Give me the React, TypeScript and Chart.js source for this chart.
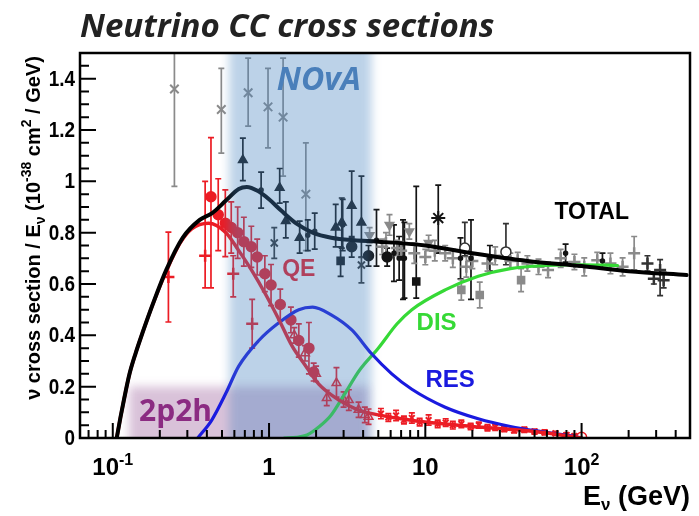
import React, { useEffect, useRef } from "react";
import { Chart, registerables } from "chart.js";
Chart.register(...registerables);

// ---------- theory curves ----------
const totalE = [0.106, 0.112, 0.118, 0.128, 0.14, 0.155, 0.18, 0.22, 0.28, 0.36, 0.43, 0.53, 0.64, 0.72, 0.85, 1.0, 1.2, 1.5, 1.9, 2.5, 3.5, 5, 10, 20, 45, 100, 200, 470];
const totalV = [0, 0.08, 0.15, 0.25, 0.33, 0.41, 0.52, 0.655, 0.78, 0.85, 0.875, 0.925, 0.97, 0.978, 0.962, 0.93, 0.885, 0.835, 0.8, 0.78, 0.77, 0.765, 0.75, 0.72, 0.69, 0.67, 0.65, 0.635];
const qeE = [0.106, 0.112, 0.118, 0.128, 0.14, 0.155, 0.18, 0.22, 0.27, 0.32, 0.41, 0.53, 0.64, 0.78, 0.95, 1.16, 1.4, 1.72, 2.08, 2.8, 3.7, 5, 7, 10, 20, 50, 100];
const qeV = [0, 0.08, 0.15, 0.25, 0.33, 0.41, 0.52, 0.65, 0.76, 0.815, 0.837, 0.8, 0.73, 0.65, 0.56, 0.46, 0.36, 0.28, 0.21, 0.148, 0.11, 0.09, 0.075, 0.062, 0.045, 0.025, 0];
const resE = [0.35, 0.43, 0.53, 0.64, 0.86, 1.16, 1.55, 1.9, 2.5, 3.4, 4.5, 6.1, 8.2, 13.4, 21.8, 35, 58, 90, 100];
const resV = [0, 0.07, 0.175, 0.28, 0.38, 0.45, 0.5, 0.51, 0.48, 0.42, 0.33, 0.25, 0.19, 0.12, 0.075, 0.045, 0.023, 0.006, 0];
const disE = [1.25, 1.5, 1.75, 2.1, 2.5, 3.0, 3.8, 5.0, 6.6, 8.2, 13.4, 21.8, 35, 60, 100, 170];
const disV = [0, 0.003, 0.012, 0.045, 0.09, 0.165, 0.265, 0.35, 0.445, 0.5, 0.577, 0.63, 0.66, 0.672, 0.675, 0.672];

// ---------- measurements (value, error: number or [down, up]) ----------
const grayXE = [0.248, 0.495, 0.735, 0.985, 1.23, 1.72];
const grayXV = [1.36, 1.28, 1.345, 1.29, 1.25, 0.95];
const grayXErr: any[] = [[0.38, 0.14], [0.17, 0.16], [0.13, 0.135], [0.16, 0.15], 0.23, [0.22, 0.2]];

const darkTriE = [0.68, 1.17, 1.28, 1.57, 2.67, 2.92, 3.38, 3.9];
const darkTriV = [1.083, 0.975, 0.845, 0.78, 0.82, 0.84, 0.905, 0.84];
const darkTriErr: any[] = [[0.08, 0.085], [0.06, 0.075], [0.065, 0.075], [0.06, 0.065], [0.075, 0.09], [0.1, 0.095], [0.125, 0.135], [0.135, 0.18]];

const darkBarE = [0.89, 1.77, 1.96, 2.96, 4.87, 6.3, 6.8, 7.2, 7.35, 16.8, 19.6, 25.9, 79, 136];
const darkBarV = [0.966, 0.79, 0.806, 0.83, 0.77, 0.72, 0.7, 0.7, 0.7, 0.7, 0.7, 0.7, 0.72, 0.69];
const darkBarErr: any[] = [0.07, 0.06, 0.07, 0.1, [0.1, 0.12], 0.11, 0.085, [0.16, 0.15], [0.155, 0.14], 0.08, [0.16, 0.15], 0.05, 0.035, 0.03];

const blackCircE = [3.38, 4.33, 5.7];
const blackCircV = [0.745, 0.71, 0.705];
const blackCircErr: any[] = [0.04, 0.04, 0.035];

const blackSqE = [2.87, 8.75];
const blackSqV = [0.69, 0.61];
const blackSqErr: any[] = [[0.06, 0.055], [0.065, 0.37]];

const darkXE = [1.08, 3.9];
const darkXV = [0.76, 0.674];
const darkXErr: any[] = [0.06, [0.07, 0.03]];

const starE = [12.1];
const starV = [0.857];
const starErr: any[] = [[0.137, 0.128]];

const grayDownE = [4.4, 5.9, 7.9, 10.5];
const grayDownV = [0.79, 0.83, 0.805, 0.76];
const grayDownErr: any[] = [0.03, 0.04, 0.03, 0.03];

const grayCrossE = [5.3, 5.6, 6.6, 7.0, 8.5, 10, 11.5, 13.4, 15, 18.3, 20, 25, 28, 35, 39, 45, 53, 61, 73.5, 90, 104, 126, 153, 183, 217];
const grayCrossV = [0.745, 0.76, 0.74, 0.73, 0.72, 0.705, 0.73, 0.72, 0.7, 0.667, 0.69, 0.68, 0.71, 0.69, 0.693, 0.68, 0.667, 0.655, 0.7, 0.686, 0.667, 0.693, 0.68, 0.667, 0.72];
const grayCrossErr: any[] = [0.03, 0.04, 0.03, 0.035, 0.04, 0.03, 0.04, 0.03, 0.035, 0.04, 0.03, 0.03, 0.035, 0.03, 0.03, 0.03, 0.03, 0.03, 0.035, 0.03, 0.035, 0.03, 0.04, 0.035, 0.065];

const openCrossE = [264, 290, 318, 335];
const openCrossV = [0.68, 0.62, 0.655, 0.615];
const openCrossErr: any[] = [0.03, 0.02, [0.1, 0.04], 0.03];

const graySqE = [17, 22.3, 41];
const graySqV = [0.577, 0.557, 0.615];
const graySqErr: any[] = [0.04, 0.05, 0.045];

const openCircE = [17.9, 32.8];
const openCircV = [0.74, 0.725];
const openCircErr: any[] = [[0.03, 0.1], [0.05, 0.11]];

const redCircE = [0.425, 0.473, 0.525, 0.573, 0.63, 0.69, 0.77, 0.84, 0.94, 1.03, 1.18, 1.38, 1.55, 1.8, 1.93];
const redCircV = [0.94, 0.87, 0.837, 0.82, 0.8, 0.765, 0.745, 0.705, 0.64, 0.596, 0.52, 0.46, 0.38, 0.35, 0.257];
const redCircErr: any[] = [[0.355, 0.23], 0.14, 0.13, 0.1, 0.1, 0.095, 0.08, 0.07, 0.07, 0.08, 0.06, 0.05, 0.065, 0.1, 0.035];

const redCrossE = [0.227, 0.39, 0.59, 0.78];
const redCrossV = [0.627, 0.71, 0.64, 0.445];
const redCrossErr: any[] = [0.175, [0.125, 0.29], [0.09, 0.07], 0.095];

const redTriE = [1.45, 1.7, 2.0, 2.34, 2.7, 3.0, 3.24, 3.74, 4.1, 4.33];
const redTriV = [0.4, 0.33, 0.25, 0.156, 0.214, 0.15, 0.148, 0.11, 0.09, 0.083];
const redTriErr: any[] = [0.03, 0.03, 0.03, 0.03, [0.055, 0.06], 0.03, 0.04, 0.03, 0.03, 0.03];

const redSmallE = [5.2, 5.8, 6.5, 7.3, 8.2, 9.2, 10.5, 12, 13.5, 15, 17, 19.5, 22, 25, 28, 32, 37, 43, 50, 58, 68, 80, 90];
const redSmallV = [0.095, 0.08, 0.088, 0.07, 0.078, 0.062, 0.07, 0.055, 0.06, 0.05, 0.055, 0.045, 0.05, 0.04, 0.042, 0.035, 0.03, 0.032, 0.025, 0.022, 0.018, 0.012, 0.008];
const redSmallErr: any[] = [0.02, 0.015, 0.02, 0.015, 0.02, 0.015, 0.02, 0.015, 0.015, 0.015, 0.015, 0.012, 0.012, 0.012, 0.012, 0.01, 0.01, 0.01, 0.01, 0.01, 0.008, 0.008, 0.006];

const redEndE = [100];
const redEndV = [0.003];

// ---------- axes ----------
const xMin = 0.0617;
const xMax = 494;
const yMin = 0;
const yMax = 1.5;
const xTickValues = [0.1, 1, 10, 100];
const xTickBase = ["10", "1", "10", "10"];
const xTickSup = ["-1", "", "", "2"];
const yTickValues = [0, 0.2, 0.4, 0.6, 0.8, 1, 1.2, 1.4];
const yTickLabels = ["0", "0.2", "0.4", "0.6", "0.8", "1", "1.2", "1.4"];

// ---------- shaded regions (data coordinates) ----------
const novaRangeE = [0.556, 4.53];
const box2p2hE = [0.127, 4.3];
const box2p2hV = [-0.1, 0.2];

const GRAY = "#8a8a8a";
const DARK = "#141414";
const RED = "#ec1c24";
const BLUE = "#1a1adf";
const GREEN = "#36d936";
const SANS = "'Liberation Sans', Arial, sans-serif";
const OPEN = "'Open Sans', sans-serif";

function curve(E: number[], V: number[], color: string, width: number, order: number) {
  return {
    type: "line",
    data: E.map((e, i) => ({ x: e, y: V[i] })),
    borderColor: color,
    borderWidth: width,
    pointRadius: 0,
    fill: false,
    cubicInterpolationMode: "monotone",
    borderCapStyle: "round",
    borderJoinStyle: "round",
    order,
  };
}

function points(E: number[], V: number[], err: any[] | null, o: any) {
  return {
    type: "line",
    data: E.map((e, i) => ({ x: e, y: V[i] })),
    showLine: false,
    pointStyle: o.style,
    pointRadius: o.r,
    pointBorderColor: o.border,
    pointBackgroundColor: o.fill,
    pointBorderWidth: o.bw ?? 1.5,
    pointRotation: o.rot ?? 0,
    errs: err,
    errColor: o.border,
    order: 5,
  };
}

function segs(ctx: CanvasRenderingContext2D, list: any[], x: number, y: number, align: string, font: (s: number) => string) {
  let total = 0;
  const ws = list.map((s) => {
    ctx.font = font(s.size);
    const w = ctx.measureText(s.t).width;
    total += w;
    return w;
  });
  let cx = align === "left" ? x : align === "center" ? x - total / 2 : x - total;
  ctx.textAlign = "left";
  ctx.textBaseline = "alphabetic";
  list.forEach((s, i) => {
    ctx.font = font(s.size);
    ctx.fillText(s.t, cx, y + (s.dy || 0));
    cx += ws[i];
  });
}

const annot = {
  id: "annot",
  beforeDatasetsDraw(chart: any) {
    const { ctx, chartArea: a, scales } = chart;
    const xs = scales.x, ys = scales.y;
    ctx.save();
    ctx.beginPath();
    ctx.rect(a.left, a.top, a.right - a.left, a.bottom - a.top);
    ctx.clip();
    // 2p2h region
    ctx.filter = "blur(5px)";
    ctx.fillStyle = "rgba(140,70,140,0.33)";
    const bx0 = xs.getPixelForValue(box2p2hE[0]);
    const bx1 = xs.getPixelForValue(box2p2hE[1]);
    const by0 = ys.getPixelForValue(box2p2hV[1]);
    const by1 = ys.getPixelForValue(box2p2hV[0]);
    ctx.fillRect(bx0, by0, bx1 - bx0, by1 - by0);
    ctx.filter = "none";
    // error bars
    chart.data.datasets.forEach((ds: any) => {
      const err = ds.errs;
      if (!err) return;
      ctx.strokeStyle = ds.errColor;
      ctx.lineWidth = 1.7;
      ds.data.forEach((p: any, j: number) => {
        const e = err[j];
        const dn = Array.isArray(e) ? e[0] : e;
        const up = Array.isArray(e) ? e[1] : e;
        const X = xs.getPixelForValue(p.x);
        const y0 = ys.getPixelForValue(p.y - dn);
        const y1 = ys.getPixelForValue(p.y + up);
        ctx.beginPath();
        ctx.moveTo(X, y0);
        ctx.lineTo(X, y1);
        ctx.moveTo(X - 3, y0);
        ctx.lineTo(X + 3, y0);
        ctx.moveTo(X - 3, y1);
        ctx.lineTo(X + 3, y1);
        ctx.stroke();
      });
    });
    ctx.restore();
  },
  afterDatasetsDraw(chart: any) {
    const { ctx, chartArea: a, scales } = chart;
    const xs = scales.x, ys = scales.y;
    const P = (e: number, v: number) => [xs.getPixelForValue(e), ys.getPixelForValue(v)];
    ctx.save();
    ctx.beginPath();
    ctx.rect(a.left, a.top, a.right - a.left, a.bottom - a.top);
    ctx.clip();
    ctx.textAlign = "center";
    ctx.textBaseline = "middle";
    const labels = [
      { t: "TOTAL", e: 116, v: 0.877, c: "#000", s: 23 },
      { t: "QE", e: 1.55, v: 0.655, c: RED, s: 23 },
      { t: "DIS", e: 11.8, v: 0.448, c: GREEN, s: 24 },
      { t: "RES", e: 14.4, v: 0.226, c: BLUE, s: 24 },
    ];
    labels.forEach((l) => {
      const [lx, ly] = P(l.e, l.v);
      ctx.font = `bold ${l.s}px ${SANS}`;
      ctx.fillStyle = l.c;
      ctx.fillText(l.t, lx, ly);
    });
    // NOvA band
    const nx0 = xs.getPixelForValue(novaRangeE[0]);
    const nx1 = xs.getPixelForValue(novaRangeE[1]);
    ctx.filter = "blur(5px)";
    ctx.fillStyle = "rgba(70,130,190,0.36)";
    ctx.fillRect(nx0, a.top - 40, nx1 - nx0, a.bottom - a.top + 80);
    ctx.filter = "none";
    const [tx, ty] = P(2.08, 1.39);
    ctx.font = `italic bold 32px ${OPEN}`;
    ctx.fillStyle = "#4a7fba";
    ctx.fillText("NOvA", tx, ty);
    const [hx, hy] = P(0.252, 0.1);
    ctx.font = `bold 30px ${OPEN}`;
    ctx.fillStyle = "#8b2b82";
    ctx.fillText("2p2h", hx, hy);
    ctx.restore();
  },
  afterDraw(chart: any) {
    const { ctx, chartArea: a, scales } = chart;
    const xs = scales.x, ys = scales.y;
    ctx.save();
    ctx.strokeStyle = "#000";
    // ticks
    ctx.lineWidth = 2;
    ctx.beginPath();
    for (let k = 0; k <= 30; k++) {
      const v = k * 0.05;
      if (v > yMax) break;
      const py = ys.getPixelForValue(v);
      const major = k % 4 === 0;
      ctx.moveTo(a.left, py);
      ctx.lineTo(a.left + (major ? 16 : 9), py);
    }
    for (let d = -2; d <= 3; d++) {
      for (let m = 1; m <= 9; m++) {
        const v = m * Math.pow(10, d);
        if (v < xMin || v > xMax) continue;
        const pxv = xs.getPixelForValue(v);
        ctx.moveTo(pxv, a.bottom);
        ctx.lineTo(pxv, a.bottom - (m === 1 ? 15 : 8));
      }
    }
    ctx.stroke();
    // frame
    ctx.lineWidth = 2.5;
    ctx.strokeRect(a.left, a.top, a.right - a.left, a.bottom - a.top);

    ctx.fillStyle = "#000";
    // y tick labels
    ctx.textAlign = "right";
    ctx.textBaseline = "middle";
    ctx.font = `bold 22px ${SANS}`;
    yTickValues.forEach((v, i) => {
      const py = ys.getPixelForValue(v);
      ctx.save();
      ctx.translate(a.left - 5, py + 1);
      ctx.scale(0.86, 1);
      ctx.fillText(yTickLabels[i], 0, 0);
      ctx.restore();
    });
    // x tick labels
    xTickValues.forEach((v, i) => {
      const pxv = xs.getPixelForValue(v);
      const list: any[] = [{ t: xTickBase[i], size: 24 }];
      if (xTickSup[i]) list.push({ t: xTickSup[i], size: 16, dy: -10 });
      segs(ctx, list, pxv, 475, "center", (s) => `bold ${s}px ${SANS}`);
    });
    // x axis title
    segs(
      ctx,
      [
        { t: "E", size: 27 },
        { t: "ν", size: 17, dy: 5 },
        { t: " (GeV)", size: 27 },
      ],
      690,
      505,
      "right",
      (s) => `bold ${s}px ${SANS}`
    );
    // y axis title
    ctx.save();
    ctx.translate(40, 228);
    ctx.rotate(-Math.PI / 2);
    segs(
      ctx,
      [
        { t: "ν cross section / E", size: 20 },
        { t: "ν", size: 14, dy: 5 },
        { t: " (10", size: 20 },
        { t: "-38", size: 14, dy: -9 },
        { t: " cm", size: 20 },
        { t: "2", size: 14, dy: -9 },
        { t: " / GeV)", size: 20 },
      ],
      0,
      0,
      "center",
      (s) => `bold ${s}px ${SANS}`
    );
    ctx.restore();
    // title
    ctx.fillStyle = "#222";
    ctx.textAlign = "left";
    ctx.textBaseline = "alphabetic";
    ctx.font = `italic bold 33px ${OPEN}`;
    ctx.fillText("Neutrino CC cross sections", 80, 37);
    ctx.restore();
  },
};

export default function App() {
  const ref = useRef<HTMLCanvasElement>(null);
  useEffect(() => {
    const datasets: any[] = [
      curve(totalE, totalV, "#000", 4, 0),
      curve(qeE, qeV, RED, 3.5, 1),
      curve(resE, resV, BLUE, 3.2, 1),
      curve(disE, disV, GREEN, 3.2, 1),
      points(grayXE, grayXV, grayXErr, { style: "crossRot", r: 6, border: GRAY, fill: GRAY, bw: 2 }),
      points(darkTriE, darkTriV, darkTriErr, { style: "triangle", r: 5, border: DARK, fill: DARK }),
      points(darkBarE, darkBarV, darkBarErr, { style: "circle", r: 2, border: DARK, fill: DARK }),
      points(blackCircE, blackCircV, blackCircErr, { style: "circle", r: 5, border: DARK, fill: DARK }),
      points(blackSqE, blackSqV, blackSqErr, { style: "rect", r: 5, border: DARK, fill: DARK }),
      points(darkXE, darkXV, darkXErr, { style: "crossRot", r: 5, border: "#333", fill: "#333", bw: 2 }),
      points(starE, starV, starErr, { style: "star", r: 7, border: DARK, fill: DARK, bw: 2 }),
      points(grayDownE, grayDownV, grayDownErr, { style: "triangle", r: 5, border: GRAY, fill: GRAY, rot: 180 }),
      points(grayCrossE, grayCrossV, grayCrossErr, { style: "cross", r: 6, border: GRAY, fill: GRAY, bw: 2.5 }),
      points(openCrossE, openCrossV, openCrossErr, { style: "cross", r: 6, border: "#333", fill: "#fff", bw: 2.5 }),
      points(graySqE, graySqV, graySqErr, { style: "rect", r: 5, border: GRAY, fill: GRAY }),
      points(openCircE, openCircV, openCircErr, { style: "circle", r: 5, border: "#333", fill: "#fff", bw: 1.5 }),
      points(redCircE, redCircV, redCircErr, { style: "circle", r: 5, border: RED, fill: RED }),
      points(redCrossE, redCrossV, redCrossErr, { style: "cross", r: 6, border: RED, fill: RED, bw: 2.5 }),
      points(redTriE, redTriV, redTriErr, { style: "triangle", r: 5, border: RED, fill: "rgba(255,255,255,0)", bw: 1.5 }),
      points(redSmallE, redSmallV, redSmallErr, { style: "crossRot", r: 4, border: RED, fill: RED, bw: 2 }),
      points(redEndE, redEndV, null, { style: "circle", r: 5, border: RED, fill: "rgba(255,255,255,0)", bw: 1.5 }),
    ];
    const chart = new Chart(ref.current as HTMLCanvasElement, {
      type: "line",
      data: { datasets },
      options: {
        animation: false,
        responsive: false,
        devicePixelRatio: 1,
        layout: { padding: { left: 80, top: 53, right: 6, bottom: 78 } },
        plugins: { legend: { display: false }, tooltip: { enabled: false }, title: { display: false } },
        scales: {
          x: { type: "logarithmic", min: xMin, max: xMax, display: false },
          y: { type: "linear", min: yMin, max: yMax, display: false },
        },
      },
      plugins: [annot],
    } as any);
    return () => chart.destroy();
  }, []);
  return (
    <div style={{ position: "fixed", left: 0, top: 0, width: 699, height: 516, background: "#fff" }}>
      <canvas ref={ref} width={699} height={516} style={{ width: 699, height: 516, display: "block" }} />
    </div>
  );
}
